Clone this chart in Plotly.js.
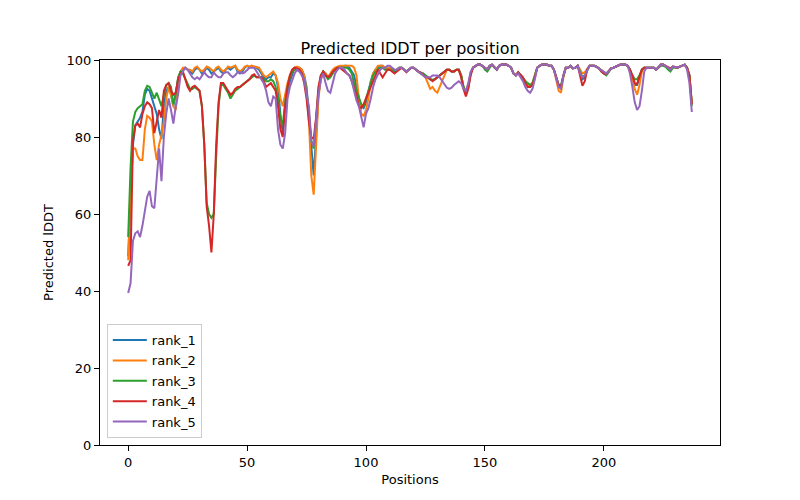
<!DOCTYPE html>
<html>
<head>
<meta charset="utf-8">
<script src="https://cdn.plot.ly/plotly-3.0.1.min.js"></script>
<style>html,body{margin:0;padding:0;background:#fff;}#chart{width:800px;height:500px;}</style>
</head>
<body>
<div id="chart"></div>
<script>
const seriesNames = ["rank_1", "rank_2", "rank_3", "rank_4", "rank_5"];
const seriesColors = ["#1f77b4", "#ff7f0e", "#2ca02c", "#d62728", "#9467bd"];

const rank_1 = [
49, 62, 78, 83, 84, 85, 86.5, 91, 92.5, 92,
90, 88, 86, 82, 79.5, 88, 92, 93, 91, 88,
92, 95, 97, 97.5, 98, 97.5, 97, 96.5, 97.5, 98,
97.5, 96.5, 97, 98, 97.5, 96.5, 97, 97.5, 98, 97,
96.5, 97.5, 98, 97.5, 98, 98.5, 97, 96.5, 97, 98,
98.5, 98, 98.5, 98, 98, 97.5, 96.5, 95.5, 95, 95.5,
95.5, 96.5, 96, 93, 86, 81, 88, 92, 94.5, 96.5,
98, 98, 98, 97.5, 96, 93, 86, 77, 70, 80,
91, 95, 97, 96.5, 95.5, 96, 97, 97.5, 98, 98,
98.3, 98.5, 98.5, 98, 97, 96, 93, 90, 88, 87.5,
89, 92, 94.5, 96.5, 97.5, 98, 98.5, 98.5, 98, 98,
98, 97.5, 97, 97.5, 98, 98, 97.5, 97, 97.5, 98,
98, 97.5, 97, 96.5, 96.5, 96, 95.5, 95, 94.8, 95,
95.5, 96, 96.5, 97, 97.5, 97.5, 97, 97, 97.5, 97.5,
96, 93, 91.5, 93, 96.5, 98, 98.5, 98.8, 98.8, 98.5,
98, 97.5, 98.5, 98.8, 98, 97.5, 98.5, 98.8, 98.8, 98.8,
98.5, 98, 96.5, 96, 96.8, 96, 95.5, 94.5, 93.5, 93,
93.5, 95.5, 98, 98.5, 98.8, 98.8, 98.8, 98.5, 98.5, 97.5,
95.5, 93.5, 93, 96, 98, 98, 98.5, 97.8, 98, 98.5,
97, 95, 95.5, 97.5, 98.5, 98.5, 98.5, 98.2, 97.8, 97.2,
96.8, 96.5, 97, 97.8, 98, 98.3, 98.5, 98.8, 98.8, 98.8,
98.5, 97.5, 95, 93.5, 93.5, 95.5, 97.5, 98, 98, 98,
98, 98, 97.5, 98.2, 98.8, 98.8, 98.5, 98, 97.5, 98.3,
98.2, 98, 98.3, 98.5, 98.8, 98, 96, 88.5
];

const rank_2 = [
48, 66, 77, 77, 75, 74, 74, 82, 85.5, 85,
84, 78, 74, 78, 80.5, 84, 90, 93, 91, 88,
87, 94, 97, 98, 98, 97.5, 97.5, 97, 98, 98.3,
97.5, 97, 97.5, 98.3, 98, 97.5, 97, 98, 98.3, 97.5,
97, 97.5, 98.3, 98, 98.3, 98.5, 97.5, 97, 97.5, 98.3,
98.5, 98.3, 98.5, 98.3, 98.3, 98, 97, 96, 95.5, 96,
96.5, 97, 96, 94, 90, 88, 91, 94, 96, 97.5,
98, 98.3, 98, 97.5, 96, 92, 84, 70, 65, 78,
90, 95, 97, 96.5, 95.5, 96.5, 97.5, 98, 98.3, 98.5,
98.5, 98.5, 98.5, 98.5, 98.5, 98, 96, 90, 86, 85.5,
87, 90, 94, 96.5, 97.5, 98.5, 98.5, 98.5, 98, 98,
98, 97.5, 97, 97.5, 98, 98, 97.5, 97, 97.5, 98,
98, 97.5, 97, 96.5, 96, 95.5, 94, 92.5, 93, 92,
91.5, 93, 95, 96.5, 97.5, 97.5, 97, 97, 97.5, 97.5,
96, 93, 91.5, 93.5, 96.5, 98, 98.5, 98.8, 98.8, 98.5,
98, 97.5, 98.5, 98.8, 98, 97.5, 98.5, 98.8, 98.8, 98.8,
98.5, 98, 96.5, 96, 96.8, 96, 95.5, 94.5, 93.5, 93.5,
94, 96, 98, 98.5, 98.8, 98.8, 98.8, 98.5, 98.5, 97.5,
95, 92, 91.5, 95.5, 98, 98, 98.5, 97.8, 98, 98.5,
97.5, 96.5, 96.8, 97.8, 98.5, 98.5, 98.5, 98.2, 97.8, 97.2,
96.8, 96.5, 97, 97.8, 98, 98.3, 98.5, 98.8, 98.8, 98.8,
98.5, 97.5, 95, 92.5, 91, 93.5, 97, 98, 98, 98,
98, 98, 97.5, 98.2, 98.8, 98.8, 98.5, 98, 97.5, 98.3,
98.2, 98, 98.3, 98.5, 98.8, 98, 96, 89
];

const rank_3 = [
54, 72, 84, 86.5, 87.5, 88, 88.5, 92, 93.3, 93,
91.5, 90, 91.5, 90, 88, 91, 93.5, 94, 93, 88.5,
91, 95.5, 97, 96.5, 95, 93.5, 92.5, 92.5, 93, 92.5,
92, 88, 78, 63, 60, 59, 60, 75, 88, 93.5,
93.5, 92.5, 91.5, 90, 91, 92, 92.5, 93, 93.5, 94,
94.5, 95, 95.5, 96, 95.5, 95.5, 95.5, 95, 94.5, 94.5,
95, 94.5, 93, 90, 85, 83, 89, 93, 95.5, 97,
97.5, 97.5, 97, 96.5, 95, 92, 86, 79, 77, 84,
92, 96, 97, 96, 95, 95.5, 96.5, 97.5, 98, 98,
98, 98, 98, 97.5, 96.5, 94, 92, 90, 88.5, 88,
90, 92.5, 94.5, 96, 97, 97.5, 98, 98, 97.5, 97.5,
97.5, 97.5, 97, 97.5, 98, 98, 97.5, 97, 97.5, 98,
98, 97.5, 97, 96.5, 96.5, 96, 95.5, 95, 94.8, 95,
95.5, 96, 96.5, 97, 97.5, 97.5, 97, 97, 97.5, 97.5,
96, 93, 91.5, 93, 96.5, 98, 98.5, 98.8, 98.8, 98.5,
97.5, 97, 98, 98.8, 98, 97.5, 98.5, 98.8, 98.8, 98.8,
98.5, 98, 96.5, 96, 96.8, 96, 95.5, 94.5, 94, 93.5,
94, 96, 98, 98.5, 98.8, 98.8, 98.8, 98.5, 98.5, 97.5,
95.5, 93.5, 93.5, 96, 98, 98, 98.5, 97.8, 98, 98.5,
97, 95.5, 96, 97.5, 98.5, 98.5, 98.5, 98.2, 97.8, 97,
96.5, 96, 96.8, 97.8, 98, 98.3, 98.5, 98.8, 98.8, 98.8,
98.5, 97.5, 96, 95, 95, 96, 97.5, 98, 98, 98,
98, 98, 97.5, 98, 98.5, 98.5, 98.2, 97.5, 97, 98,
98, 98, 98.3, 98.5, 98.8, 98, 96, 88
];

const rank_4 = [
46.5, 48, 79, 83, 83.5, 82.5, 86, 88, 89, 88.5,
87.5, 81, 84, 87, 85, 92, 93.5, 94, 92, 91,
91.5, 95, 96.5, 97, 95, 93, 92, 93, 93.3, 92.5,
92, 88, 78, 62, 57, 50, 60, 78, 89, 94,
94, 93, 92, 91, 91.5, 92.5, 93, 93, 93.5, 94,
94.5, 95, 96, 96.3, 95.5, 95.5, 95.5, 94.5, 93, 93.5,
94, 93, 92, 88, 82, 80, 88, 93, 96, 97.5,
98, 97.8, 97.5, 96.5, 94, 90, 84, 80, 79.5, 85,
93, 96, 97, 96, 95.5, 96, 97, 97.5, 98, 98,
97.5, 97, 96.5, 96, 94.5, 93, 91, 88, 87.5, 88.5,
90, 91.5, 93, 95, 96.5, 97.5, 96.5, 95.5, 96.5, 97.5,
97.5, 97, 96.5, 97, 97.5, 98, 97.5, 96.8, 97.5, 98,
98, 97.5, 97, 96.8, 96, 95.5, 95.5, 95, 94.5, 95,
95.5, 96, 96.5, 97, 97.5, 97.5, 97, 97, 97.5, 97.5,
95.5, 92.5, 90.5, 92.5, 96, 98, 98.5, 98.8, 98.8, 98.5,
98, 97.5, 98.5, 98.8, 98, 97.5, 98.5, 98.8, 98.8, 98.8,
98.5, 98, 96.5, 96, 96.8, 96, 95.5, 94, 93, 93,
93.5, 95.5, 98, 98.5, 98.8, 98.8, 98.8, 98.5, 98.5, 97.5,
95.5, 93.5, 93, 96, 98, 98, 98.5, 97.8, 98, 98.5,
96, 93.3, 94.5, 97.5, 98.5, 98.5, 98.5, 98.2, 97.8, 97,
96.5, 96.4, 97, 97.8, 98, 98.3, 98.5, 98.8, 98.8, 98.8,
98.5, 97.5, 96, 94, 93.8, 95.5, 97.5, 98, 98, 98,
98, 98, 97.5, 98.2, 98.8, 98.8, 98.5, 98, 97.8, 98.3,
98.2, 98, 98.3, 98.5, 98.8, 98, 96, 88.5
];

const rank_5 = [
39.5, 42, 53, 55, 55.5, 54, 57, 61, 64.5, 66,
62, 61.5, 70, 77, 68.5, 80, 86, 90, 87, 83.5,
88, 91, 96, 97, 98, 97.5, 96.5, 95.5, 95, 95.5,
95, 96, 96.8, 96, 95.5, 95.5, 96.8, 96, 95.5, 95.5,
96.5, 96.8, 96.8, 96, 95.5, 96, 96.8, 96.8, 96.5, 96.8,
97.5, 98, 98, 98, 97, 96, 95, 94, 92, 89,
88, 90.5, 90, 82, 78, 77, 81, 90, 93, 95,
96.5, 97.5, 97, 96, 95, 91, 88, 79, 77.5, 84,
91, 95, 96.5, 94, 92, 91.5, 94, 96.5, 97.5, 98,
98, 97.5, 96.5, 96, 94.5, 92, 89.5, 88, 85, 82.5,
86, 87.5, 90, 93, 95, 96.5, 97.5, 98, 98, 98.5,
98.5, 98, 97.5, 97.5, 98, 98, 97.5, 97, 97.5, 98,
98, 97.5, 97, 96.5, 96, 95.5, 95.5, 95.5, 96, 96,
96, 95.5, 94.5, 93.5, 92.8, 92.5, 92.8, 93.5, 94, 94.5,
94, 92.5, 92, 94, 97, 98, 98.5, 98.8, 98.8, 98.5,
98, 97.5, 98.5, 98.8, 98, 97.5, 98.5, 98.8, 98.8, 98.8,
98.5, 98, 96.5, 96, 96.5, 95.5, 94.5, 93, 92, 91.5,
92.5, 95, 98, 98.5, 98.8, 98.8, 98.8, 98.5, 98.5, 97.5,
95, 93, 92.5, 96, 98, 98, 98.5, 97.8, 98, 98.5,
96.5, 95.5, 96, 97.5, 98.5, 98.5, 98.5, 98.2, 97.8, 97.2,
96.8, 96.5, 97, 97.8, 98, 98.3, 98.5, 98.8, 98.8, 98.8,
98.5, 96.5, 93, 89, 87, 88, 92, 97, 98, 98,
98, 98, 97.5, 98.2, 98.8, 98.8, 98.5, 98, 97.5, 98.3,
98.2, 98, 98.3, 98.5, 98.8, 97.5, 94, 86.5
];

const allSeries = [rank_1, rank_2, rank_3, rank_4, rank_5];
const positions = rank_1.map((_, i) => i);

const xTicks = [0, 50, 100, 150, 200];
const yTicks = [0, 20, 40, 60, 80, 100];

const traces = allSeries.map((vals, k) => ({
  x: positions,
  y: vals,
  type: "scatter",
  mode: "lines",
  name: seriesNames[k],
  legendgroup: seriesNames[k],
  line: { color: seriesColors[k], width: 2 }
}));

const font = "DejaVu Sans, sans-serif";
const layout = {
  width: 800,
  height: 500,
  paper_bgcolor: "#ffffff",
  plot_bgcolor: "#ffffff",
  margin: { l: 100, r: 80, t: 60, b: 55 },
  font: { family: font, size: 13, color: "#000" },
  title: {
    text: "Predicted lDDT per position",
    font: { family: font, size: 16, color: "#000" },
    x: 0.5, xref: "paper", xanchor: "center",
    y: 1, yref: "paper", yanchor: "bottom",
    pad: { b: 6 }
  },
  xaxis: {
    range: [-11.85, 248.85],
    tickmode: "array",
    tickvals: xTicks,
    ticktext: xTicks.map(String),
    ticks: "outside", ticklen: 5, tickwidth: 1, tickcolor: "#000",
    showline: true, linecolor: "#000", linewidth: 1, mirror: true,
    showgrid: false, zeroline: false,
    tickfont: { family: font, size: 13 },
    title: { text: "Positions", font: { family: font, size: 13 }, standoff: 6 }
  },
  yaxis: {
    range: [0, 100],
    tickmode: "array",
    tickvals: yTicks,
    ticktext: yTicks.map(String),
    ticks: "outside", ticklen: 5, tickwidth: 1, tickcolor: "#000",
    showline: true, linecolor: "#000", linewidth: 1, mirror: true,
    showgrid: false, zeroline: false,
    tickfont: { family: font, size: 13 },
    title: { text: "Predicted lDDT", font: { family: font, size: 13 }, standoff: 10 }
  },
  showlegend: true,
  legend: {
    x: 0.011, y: 0.018, xanchor: "left", yanchor: "bottom",
    bgcolor: "rgba(255,255,255,0.8)",
    bordercolor: "#cccccc", borderwidth: 1,
    font: { family: font, size: 13, color: "#000" },
    traceorder: "grouped", tracegroupgap: 0.5,
    itemwidth: 34
  }
};

Plotly.newPlot("chart", traces, layout, { displayModeBar: false, staticPlot: true });
</script>
</body>
</html>
